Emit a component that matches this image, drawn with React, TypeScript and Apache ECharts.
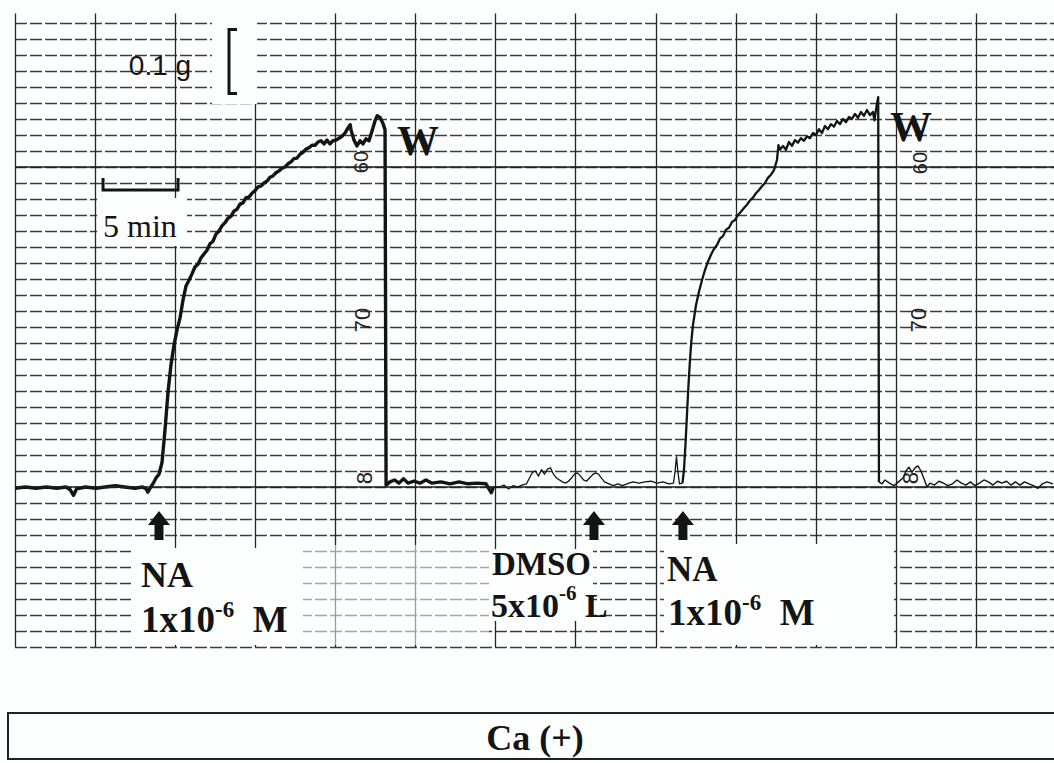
import React, { useEffect, useRef } from "react";
import * as echarts from "echarts";

// Time in minutes, tension in grams (relative to resting baseline)
const TIME_MAX = 69.27;
const PAPER_MAJOR_MIN = 5.34;
const TENSION_MIN = -0.25;
const TENSION_MAX = 0.74;
const PAPER_MINOR_G = 0.025;
const HEAVY_RULES_G = [0, 0.5];

// first NA response, wash (W) and return to baseline
const run1NA: number[][] = [
  [0, -0.002], [0.7, 0], [1.4, -0.002], [2.1, 0], [2.8, -0.002], [3.4, 0], [3.7, -0.005], [3.9, -0.013],
  [4.1, -0.003], [4.7, 0], [5.4, -0.002], [6, 0], [6.7, 0.002], [7.3, 0], [8, -0.002], [8.5, 0],
  [8.75, -0.003], [8.85, -0.008], [9, -0.002], [9.2, 0.005], [9.4, 0.014], [9.6, 0.02], [9.8, 0.038],
  [10, 0.089], [10.2, 0.148], [10.4, 0.191], [10.6, 0.222], [10.8, 0.245], [11, 0.264], [11.2, 0.292],
  [11.4, 0.314], [11.6, 0.323], [11.8, 0.333], [12, 0.344], [12.2, 0.348], [12.4, 0.358], [12.6, 0.364],
  [12.8, 0.37], [13, 0.38], [13.2, 0.384], [13.4, 0.395], [13.6, 0.4], [13.8, 0.408], [14, 0.413],
  [14.2, 0.42], [14.4, 0.423], [14.6, 0.431], [14.8, 0.434], [15, 0.442], [15.2, 0.444], [15.4, 0.452],
  [15.6, 0.453], [15.8, 0.459], [16, 0.463], [16.2, 0.469], [16.4, 0.47], [16.6, 0.475], [16.8, 0.478],
  [17, 0.484], [17.2, 0.486], [17.4, 0.491], [17.6, 0.494], [17.8, 0.498], [18, 0.5], [18.2, 0.505],
  [18.4, 0.508], [18.6, 0.513], [18.8, 0.514], [19, 0.52], [19.2, 0.523], [19.4, 0.528], [19.6, 0.53],
  [19.8, 0.534], [20, 0.534], [20.2, 0.539], [20.4, 0.541], [20.6, 0.536], [20.8, 0.542], [21, 0.536],
  [21.2, 0.541], [21.4, 0.542], [21.6, 0.545], [21.8, 0.548], [22, 0.553], [22.2, 0.561], [22.35, 0.566],
  [22.4, 0.558], [22.6, 0.542], [22.8, 0.533], [23, 0.541], [23.2, 0.536], [23.4, 0.544], [23.6, 0.541],
  [23.8, 0.556], [24, 0.572], [24.15, 0.58], [24.35, 0.577], [24.55, 0.567], [24.67, 0.558], [24.74, 0.003],
  [25, 0.008], [25.3, 0.011], [25.6, 0.006], [25.9, 0.013], [26.2, 0.006], [26.6, 0.009], [27, 0.006],
  [27.4, 0.011], [27.8, 0.006], [28.4, 0.008], [29, 0.005], [29.6, 0.008], [30.2, 0.005], [30.8, 0.006],
  [31.4, 0.005], [31.6, -0.003], [31.75, -0.009], [31.9, 0],
];

// baseline with DMSO vehicle addition
const dmsoBaseline: number[][] = [
  [31.9, 0], [32.3, 0], [32.6, 0.003], [32.9, -0.003], [33.2, 0.002], [33.5, 0], [33.8, 0.003], [34.1, 0.005],
  [34.3, 0.014], [34.5, 0.023], [34.7, 0.025], [34.9, 0.017], [35.1, 0.027], [35.3, 0.02], [35.5, 0.028],
  [35.7, 0.03], [35.9, 0.02], [36.1, 0.014], [36.3, 0.011], [36.5, 0.008], [36.7, 0.006], [36.9, 0.009],
  [37.1, 0.014], [37.3, 0.02], [37.5, 0.022], [37.7, 0.017], [37.9, 0.011], [38.1, 0.009], [38.3, 0.014],
  [38.5, 0.019], [38.7, 0.022], [38.9, 0.02], [39.1, 0.014], [39.3, 0.008], [39.6, 0.005], [39.9, 0.002],
  [40.2, 0.005], [40.5, 0.002], [40.8, 0.005], [41.2, 0.008], [41.6, 0.006], [42, 0.008], [42.4, 0.009],
  [42.8, 0.006], [43.2, 0.008], [43.6, 0.005], [43.9, 0.006], [44, 0.023], [44.1, 0.047], [44.2, 0.023],
  [44.3, 0.005], [44.5, 0.006],
];

// second NA response after DMSO
const run2NA: number[][] = [
  [44.5, 0.006], [44.6, 0.027], [44.7, 0.066], [44.8, 0.113], [44.9, 0.159], [45, 0.198], [45.1, 0.23],
  [45.2, 0.253], [45.4, 0.284], [45.6, 0.305], [45.8, 0.323], [46, 0.339], [46.2, 0.352], [46.4, 0.363],
  [46.6, 0.372], [46.8, 0.378], [47, 0.388], [47.2, 0.392], [47.4, 0.402], [47.6, 0.405], [47.8, 0.414],
  [48, 0.417], [48.2, 0.425], [48.4, 0.43], [48.6, 0.436], [48.8, 0.441], [49, 0.448], [49.2, 0.452],
  [49.4, 0.459], [49.6, 0.464], [49.8, 0.47], [50, 0.475], [50.2, 0.483], [50.4, 0.488], [50.6, 0.495],
  [50.8, 0.511], [50.9, 0.534], [51, 0.527], [51.2, 0.533], [51.4, 0.527], [51.6, 0.539], [51.8, 0.533],
  [52, 0.542], [52.2, 0.538], [52.4, 0.545], [52.6, 0.541], [52.8, 0.548], [53, 0.545], [53.2, 0.553],
  [53.4, 0.55], [53.6, 0.559], [53.8, 0.553], [54, 0.564], [54.2, 0.559], [54.4, 0.567], [54.6, 0.563],
  [54.8, 0.572], [55, 0.567], [55.2, 0.575], [55.4, 0.57], [55.6, 0.578], [55.8, 0.575], [56, 0.583],
  [56.2, 0.577], [56.4, 0.586], [56.6, 0.58], [56.8, 0.589], [57, 0.581], [57.2, 0.586], [57.3, 0.573],
  [57.45, 0.597], [57.55, 0.609], [57.6, 0.008],
];

// after the second wash
const afterWash2: number[][] = [
  [57.6, 0.008], [57.8, 0.005], [58, 0.011], [58.3, 0.006], [58.6, 0.002], [58.9, 0.008], [59.2, 0.014],
  [59.4, 0.025], [59.6, 0.031], [59.8, 0.023], [60, 0.03], [60.2, 0.033], [60.4, 0.025], [60.6, 0.013],
  [60.8, 0], [61, 0.006], [61.3, 0.003], [61.6, 0.009], [61.9, 0.006], [62.2, 0.002], [62.5, 0.005],
  [62.8, 0.011], [63.1, 0.006], [63.4, 0.003], [63.7, 0.008], [64, 0.002], [64.3, 0.006], [64.6, 0.011],
  [64.9, 0.008], [65.2, 0.003], [65.5, 0.009], [65.8, 0.006], [66.1, 0.009], [66.4, 0.003], [66.7, 0.008],
  [67, 0.003], [67.3, 0.008], [67.6, 0.005], [67.9, 0.002], [68.2, -0.002], [68.5, 0.005], [68.8, 0.008],
  [69.2, 0.005],
];

const ADDITION_TIMES = [9.6, 38.6, 44.53]; // NA, DMSO, NA arrows
const WASH_TIMES = [24.74, 57.6];
const SCALE_TIME_START = 5.87;
const SCALE_TIME_LEN = 5; // min
const SCALE_G_START = 0.615;
const SCALE_G_LEN = 0.1; // g

const SERIF = "'Liberation Serif', 'Times New Roman', serif";
const SANS = "'Liberation Sans', Arial, sans-serif";
const INK = "#141414";

export default function App() {
  const ref = useRef<HTMLDivElement>(null);

  useEffect(() => {
    if (!ref.current) return;
    const chart = echarts.init(ref.current, undefined, { renderer: "svg" });
    const traceSeries = (name: string, data: number[][], width: number, extra: any = {}) => ({
      name,
      type: "line",
      data,
      showSymbol: false,
      symbol: "none",
      silent: true,
      lineStyle: { color: INK, width, join: "round" },
      z: 4,
      ...extra,
    });
    chart.setOption({
      animation: false,
      backgroundColor: "#fdfefe",
      grid: { left: 15, right: 0, top: 13.4, height: 633.6 },
      xAxis: {
        type: "value",
        min: 0,
        max: TIME_MAX,
        interval: PAPER_MAJOR_MIN,
        axisLine: { show: false },
        axisTick: { show: false },
        axisLabel: { show: false },
        splitLine: { show: true, showMaxLine: false, lineStyle: { color: "#262626", width: 1.3 } },
      },
      yAxis: {
        type: "value",
        min: TENSION_MIN,
        max: TENSION_MAX,
        interval: PAPER_MINOR_G,
        axisLine: { show: false },
        axisTick: { show: false },
        axisLabel: { show: false },
        splitLine: {
          show: true,
          showMaxLine: false,
          lineStyle: { color: "#3c3c3c", width: 1.3, type: [12, 3] },
        },
      },
      series: [
        traceSeries("NA 1", run1NA, 3.4, {
          markLine: {
            silent: true,
            symbol: ["none", "none"],
            label: { show: false },
            lineStyle: { color: "#1e1e1e", width: 1.7, type: "solid" },
            data: HEAVY_RULES_G.map((v) => ({ yAxis: v })),
          },
        }),
        traceSeries("DMSO", dmsoBaseline, 1.3),
        traceSeries("NA 2", run2NA, 2.3),
        traceSeries("Wash", afterWash2, 1.4),
      ],
    });

    const px = (t: number, g: number) =>
      chart.convertToPixel({ xAxisIndex: 0, yAxisIndex: 0 }, [t, g]) as number[];

    const graphics: any[] = [];
    const whiteRect = (x: number, y: number, w: number, h: number, opacity = 1) =>
      graphics.push({ type: "rect", z: 8, shape: { x, y, width: w, height: h }, style: { fill: "#fdfefe", opacity } });
    whiteRect(212, 12, 45, 92);
    whiteRect(97, 198, 90, 48);
    whiteRect(131, 548, 172, 97);
    whiteRect(303, 545, 186, 100, 0.55);
    whiteRect(489, 549, 104, 72);
    whiteRect(664, 544, 230, 101);
    whiteRect(0, 649, 1054, 114);

    const text = (x: number, y: number, t: string, size: number, opts: any = {}) =>
      graphics.push({
        type: "text",
        z: 12,
        x,
        y,
        rotation: opts.rotation || 0,
        style: {
          text: t,
          fontSize: size,
          fontFamily: opts.family || SERIF,
          fontWeight: opts.weight || "bold",
          fill: opts.fill || INK,
          align: opts.align || "left",
          verticalAlign: "middle",
          rich: opts.rich,
        },
      });

    // scale bars
    const [gx] = px(SCALE_TIME_START, 0);
    const [gx2] = px(SCALE_TIME_START + SCALE_TIME_LEN, 0);
    graphics.push({
      type: "polyline",
      z: 12,
      shape: { points: [[gx, 178], [gx, 190], [gx2, 190], [gx2, 178]] },
      style: { stroke: INK, lineWidth: 3, fill: "none" },
    });
    const [, by1] = px(0, SCALE_G_START);
    const [, by2] = px(0, SCALE_G_START + SCALE_G_LEN);
    graphics.push({
      type: "polyline",
      z: 12,
      shape: { points: [[237, by2], [229, by2], [229, by1], [237, by1]] },
      style: { stroke: INK, lineWidth: 3, fill: "none" },
    });
    text(160, 65, "0.1 g", 28, { family: SANS, weight: "normal", align: "center" });
    text(103, 226, "5 min", 32, { weight: "normal" });

    // arrows for additions
    ADDITION_TIMES.forEach((t) => {
      const [cx] = px(t, 0);
      graphics.push({
        type: "polygon",
        z: 12,
        shape: {
          points: [
            [cx, 511], [cx + 11, 525], [cx + 4.5, 525], [cx + 4.5, 540],
            [cx - 4.5, 540], [cx - 4.5, 525], [cx - 11, 525],
          ],
        },
        style: { fill: INK },
      });
    });

    // W labels at wash
    WASH_TIMES.forEach((t, i) => {
      const [wx] = px(t, 0);
      text(wx + 11, i === 0 ? 141 : 127, "W", 42);
    });

    const rich = {
      b: { fontSize: 37, fontWeight: "bold", fontFamily: SERIF, fill: INK, lineHeight: 40, verticalAlign: "bottom" },
      s: { fontSize: 23, fontWeight: "bold", fontFamily: SERIF, fill: INK, lineHeight: 12, verticalAlign: "top" },
    };
    const richD = {
      b: { ...rich.b, fontSize: 34 },
      s: { ...rich.s, fontSize: 21 },
    };
    text(141, 575, "NA", 36);
    text(141, 618, "{b|1x10}{s|-6}{b|  M}", 37, { rich });
    text(492, 564, "DMSO", 33);
    text(491, 602, "{b|5x10}{s|-6}{b| L}", 34, { rich: richD });
    text(667, 569, "NA", 35);
    text(668, 611, "{b|1x10}{s|-6}{b|  M}", 37, { rich });

    // chart paper printed numbers
    const paper = { family: SANS, weight: "normal", align: "center", rotation: Math.PI / 2, fill: "#222" };
    text(362, 320, "70", 22, paper);
    text(364, 478, "8", 22, paper);
    text(361, 162, "60", 20, paper);
    text(918, 320, "70", 22, paper);
    text(910, 478, "8", 22, paper);
    text(920, 163, "60", 20, paper);

    // condition box
    graphics.push({
      type: "rect",
      z: 12,
      shape: { x: 8, y: 713, width: 1060, height: 46 },
      style: { fill: "none", stroke: "#222", lineWidth: 2 },
    });
    text(535, 738, "Ca (+)", 36, { align: "center" });

    chart.setOption({ graphic: graphics });
    return () => chart.dispose();
  }, []);

  return (
    <div
      ref={ref}
      style={{ position: "absolute", left: 0, top: 0, width: 1054, height: 763, background: "#fdfefe" }}
    />
  );
}
